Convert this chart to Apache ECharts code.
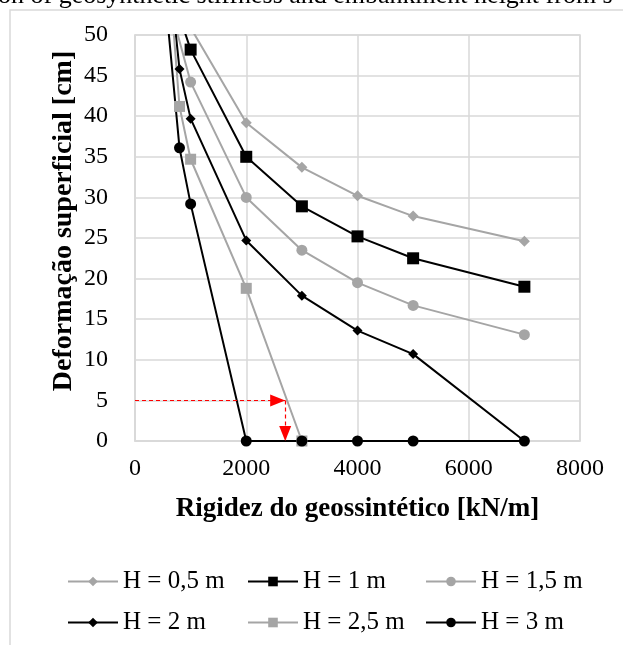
<!DOCTYPE html>
<html>
<head>
<meta charset="utf-8">
<script src="https://cdn.jsdelivr.net/npm/echarts@6/dist/echarts.min.js"></script>
<style>
html, body { margin: 0; padding: 0; background: #fff; }
#chart { width: 623px; height: 645px; }
</style>
</head>
<body>
<div id="chart"></div>
<script>
// rigidez [kN/m] e deformação [cm]
const rig05 = [1000, 2000, 3000, 4000, 5000, 7000]
const def05 = [50.9, 39.2, 33.7, 30.2, 27.7, 24.6]
const rig10 = [800, 1000, 2000, 3000, 4000, 5000, 7000]
const def10 = [52.3, 48.2, 35.0, 28.9, 25.2, 22.5, 19.0]
const rig15 = [500, 1000, 2000, 3000, 4000, 5000, 7000]
const def15 = [56.8, 44.2, 30.0, 23.5, 19.5, 16.7, 13.1]
const rig20 = [700, 800, 1000, 2000, 3000, 4000, 5000, 7000]
const def20 = [52.3, 45.8, 39.7, 24.7, 17.9, 13.6, 10.7, 0]
const rig25 = [600, 800, 1000, 2000, 3000]
const def25 = [58.7, 41.2, 34.7, 18.8, 0]
const rig30 = [600, 800, 1000, 2000, 3000, 4000, 5000, 7000]
const def30 = [50.7, 36.1, 29.2, 0, 0, 0, 0, 0]

const names = ['H = 0,5 m', 'H = 1 m', 'H = 1,5 m', 'H = 2 m', 'H = 2,5 m', 'H = 3 m']

// seta vermelha tracejada (leitura em 5 cm)
const guiaX = [0, 2700]
const guiaY = [5, 0]

const xMin = 0, xMax = 8000, xStep = 2000
const yMin = 0, yMax = 50, yStep = 5

const GRAY = '#a5a5a5'
const FONT = '"Liberation Serif", "Times New Roman", serif'

const pairs = (xs, ys) => xs.map((x, i) => [x, ys[i]])

const serie = (name, xs, ys, symbol, size, color) => ({
  name: name,
  type: 'line',
  data: pairs(xs, ys),
  symbol: symbol,
  symbolSize: size,
  lineStyle: { color: color, width: 2 },
  itemStyle: { color: color },
})

const chart = echarts.init(document.getElementById('chart'))

const series = [
  serie(names[0], rig05, def05, 'diamond', 11, GRAY),
  serie(names[1], rig10, def10, 'rect', 12, '#000'),
  serie(names[2], rig15, def15, 'circle', 11, GRAY),
  serie(names[3], rig20, def20, 'diamond', 10, '#000'),
  serie(names[4], rig25, def25, 'rect', 11, GRAY),
  serie(names[5], rig30, def30, 'circle', 11, '#000'),
]

// seta em cima da última série; o offset põe a ponta do triângulo no fim da linha
const ponta = (x, y) => ({ coord: [x, y], symbolOffset: [0, 7.5] })
series[5].markLine = {
  silent: true,
  symbol: ['none', 'triangle'],
  symbolSize: [12, 15],
  label: { show: false },
  lineStyle: { color: '#ff0000', width: 1.2, type: [4, 3] },
  data: [
    [{ coord: [guiaX[0], guiaY[0]] }, ponta(guiaX[1], guiaY[0])],
    [{ coord: [guiaX[1], guiaY[0]] }, ponta(guiaX[1], guiaY[1])],
  ],
}

const legendLeft = [62, 242, 420]

chart.setOption({
  animation: false,
  backgroundColor: '#fff',
  grid: { left: 135, right: 43, top: 35, bottom: 204, show: true, borderColor: '#d9d9d9', borderWidth: 1.5 },
  legend: legendLeft.map((left, c) => ({
    data: [names[c], names[c + 3]],
    orient: 'vertical',
    left: left,
    top: 564,
    itemWidth: 50,
    itemHeight: 12,
    itemGap: 16,
    textStyle: { fontFamily: FONT, fontSize: 25, color: '#000' },
  })),
  xAxis: {
    type: 'value',
    min: xMin,
    max: xMax,
    interval: xStep,
    name: 'Rigidez do geossintético [kN/m]',
    nameLocation: 'middle',
    nameGap: 55,
    nameTextStyle: { fontFamily: FONT, fontSize: 27, fontWeight: 'bold', color: '#000' },
    axisLine: { lineStyle: { color: '#d9d9d9', width: 1.5 } },
    axisTick: { show: false },
    axisLabel: { margin: 16, fontFamily: FONT, fontSize: 24, color: '#000', formatter: (v) => String(v) },
    splitLine: { lineStyle: { color: '#d9d9d9', width: 1.5 } },
  },
  yAxis: {
    type: 'value',
    min: yMin,
    max: yMax,
    interval: yStep,
    axisLine: { show: true, lineStyle: { color: '#d9d9d9', width: 1.5 } },
    axisTick: { show: false },
    axisLabel: { margin: 27, fontFamily: FONT, fontSize: 24, color: '#000' },
    splitLine: { lineStyle: { color: '#d9d9d9', width: 1.5 } },
  },
  graphic: [
    {
      type: 'rect',
      z: -10,
      shape: { x: 10, y: 10, width: 700, height: 700 },
      style: { fill: 'none', stroke: '#d9d9d9', lineWidth: 1.5 },
    },
    {
      type: 'text',
      x: -2,
      y: 9,
      style: {
        text: 'on of geosynthetic stiffness and embankment height from s',
        font: '26px ' + FONT,
        fill: '#000',
        textAlign: 'left',
        textVerticalAlign: 'bottom',
      },
    },
    {
      type: 'text',
      x: 64,
      y: 221,
      rotation: Math.PI / 2,
      style: {
        text: 'Deformação superficial [cm]',
        font: 'bold 28px ' + FONT,
        fill: '#000',
        textAlign: 'center',
        textVerticalAlign: 'middle',
      },
    },
  ],
  series: series,
})
</script>
</body>
</html>
